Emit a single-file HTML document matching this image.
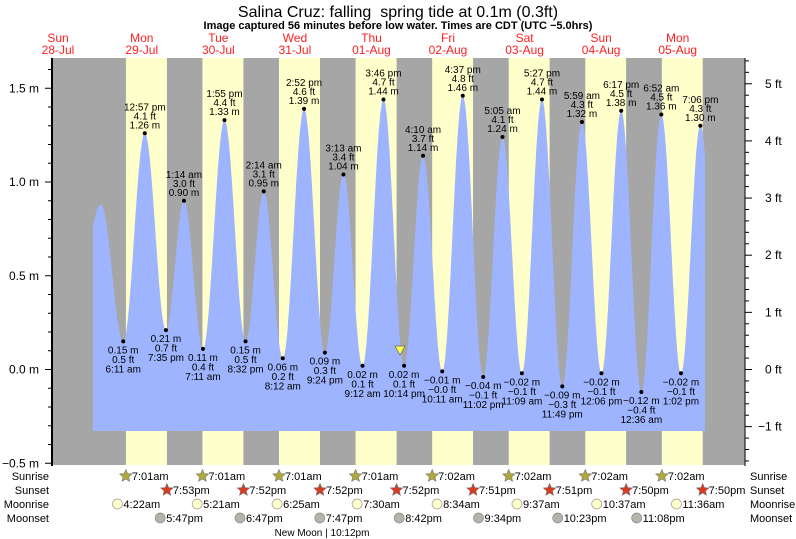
<!DOCTYPE html>
<html><head><meta charset="utf-8"><style>
body{margin:0;background:#fff}
svg{display:block;font-family:"Liberation Sans",Arial,sans-serif}
</style></head><body>
<svg id="s" width="796" height="539" viewBox="0 0 796 539" xmlns="http://www.w3.org/2000/svg">
<text x="398" y="17" font-size="16" text-anchor="middle">Salina Cruz: falling&#160; spring tide at 0.1m (0.3ft)</text>
<text x="398" y="29" font-size="11" font-weight="bold" text-anchor="middle">Image captured 56 minutes before low water. Times are CDT (UTC −5.0hrs)</text>
<rect x="53" y="58" width="692" height="407" fill="#a6a6a6"/>
<g id="bands"></g>
<g id="tide"></g>
<g id="labels" font-size="10" text-anchor="middle"></g>
<line x1="52" y1="58" x2="52" y2="466" stroke="#000" stroke-width="2"/>
<line x1="745" y1="58" x2="745" y2="466" stroke="#000" stroke-width="1"/>
<g id="axes" font-size="12"></g>
<g id="bottom" font-size="11"></g>
<text x="322" y="536" font-size="10" text-anchor="middle">New Moon | 10:12pm</text>
</svg>
<script>
const NS="http://www.w3.org/2000/svg";
function el(p,t,a,txt){const e=document.createElementNS(NS,t);for(const k in a)e.setAttribute(k,a[k]);if(txt!==undefined)e.textContent=txt;document.getElementById(p).appendChild(e);return e;}
const X=h=>103.5+3.19*h, Y=m=>369.5-187.5*m;
const days=[["Sun","28-Jul"],["Mon","29-Jul"],["Tue","30-Jul"],["Wed","31-Jul"],["Thu","01-Aug"],["Fri","02-Aug"],["Sat","03-Aug"],["Sun","04-Aug"],["Mon","05-Aug"]];
const sr=[7.017,7.017,7.017,7.017,7.033,7.033,7.033,7.033], ss=[19.883,19.867,19.867,19.867,19.85,19.85,19.833,19.833];
for(let d=0;d<8;d++){const a=X(d*24+sr[d]),b=X(d*24+ss[d]);el("bands","rect",{x:a,y:58,width:b-a,height:407,fill:"#ffffcc"});}
days.forEach((dd,i)=>{const x=i==0?58:X((i-1)*24+12);el("axes","text",{x:x,y:42,"text-anchor":"middle",fill:"#ff2020"},dd[0]);el("axes","text",{x:x,y:54,"text-anchor":"middle",fill:"#ff2020"},dd[1]);});
const E=[[-10,0.2],[-0.8,0.88],[6.18,0.15],[12.95,1.26],[19.58,0.21],[25.23,0.90],[31.18,0.11],[37.92,1.33],[44.53,0.15],[50.23,0.95],[56.2,0.06],[62.87,1.39],[69.4,0.09],[75.22,1.04],[81.2,0.02],[87.77,1.44],[94.23,0.02],[100.17,1.14],[106.18,-0.01],[112.62,1.46],[119.03,-0.04],[125.08,1.24],[131.15,-0.02],[137.45,1.44],[143.82,-0.09],[149.98,1.32],[156.1,-0.02],[162.28,1.38],[168.6,-0.12],[174.87,1.36],[181.03,-0.02],[187.1,1.30],[193,0.2]];
function hv(h){for(let i=0;i<E.length-1;i++){const[a,va]=E[i],[b,vb]=E[i+1];if(h>=a&&h<=b){const f=(1-Math.cos(Math.PI*(h-a)/(b-a)))/2;return va+(vb-va)*f;}}return 0;}
const h0=(93-103.5)/3.19,h1=(705-103.5)/3.19;let d="M93,431";
for(let h=h0;h<=h1;h+=0.1)d+=" L"+X(h).toFixed(1)+","+Y(hv(h)).toFixed(1);
d+=" L705,"+Y(hv(h1)).toFixed(1)+" L705,431 Z";
el("tide","path",{d:d,fill:"#9fb4ff"});
const L=[["6:11 am",0.15,0.5],["12:57 pm",1.26,4.1],["7:35 pm",0.21,0.7],["1:14 am",0.90,3.0],["7:11 am",0.11,0.4],["1:55 pm",1.33,4.4],["8:32 pm",0.15,0.5],["2:14 am",0.95,3.1],["8:12 am",0.06,0.2],["2:52 pm",1.39,4.6],["9:24 pm",0.09,0.3],["3:13 am",1.04,3.4],["9:12 am",0.02,0.1],["3:46 pm",1.44,4.7],["10:14 pm",0.02,0.1],["4:10 am",1.14,3.7],["10:11 am",-0.01,-0.0],["4:37 pm",1.46,4.8],["11:02 pm",-0.04,-0.1],["5:05 am",1.24,4.1],["11:09 am",-0.02,-0.1],["5:27 pm",1.44,4.7],["11:49 pm",-0.09,-0.3],["5:59 am",1.32,4.3],["12:06 pm",-0.02,-0.1],["6:17 pm",1.38,4.5],["12:36 am",-0.12,-0.4],["6:52 am",1.36,4.5],["1:02 pm",-0.02,-0.1],["7:06 pm",1.30,4.3]];
const fm=v=>(v<0?"−":"")+Math.abs(v).toFixed(2), ff=v=>(v<0||Object.is(v,-0)?"−":"")+Math.abs(v).toFixed(1);
L.forEach((l,i)=>{const e=E[i+2];const x=X(e[0]),y=Y(e[1]);el("labels","circle",{cx:x,cy:y,r:2,fill:"#000"});
 if(l[1]>0.5){el("labels","text",{x:x,y:y-5},fm(l[1])+" m");el("labels","text",{x:x,y:y-14},ff(l[2])+" ft");el("labels","text",{x:x,y:y-23},l[0]);}
 else{el("labels","text",{x:x,y:y+12},fm(l[1])+" m");el("labels","text",{x:x,y:y+21.5},ff(l[2])+" ft");el("labels","text",{x:x,y:y+31},l[0]);}});
el("labels","path",{d:"M395,346 L405,346 L400,355 Z",fill:"#ffff44",stroke:"#666","stroke-width":"0.7"});
for(let m=-0.5;m<=1.61;m+=0.1){const y=Y(m),maj=Math.abs(m*2-Math.round(m*2))<1e-6;el("axes","line",{x1:maj?45:48,y1:y,x2:52,y2:y,stroke:"#000"});}
[1.5,1.0,0.5,0.0,-0.5].forEach(m=>el("axes","text",{x:39,y:Y(m)+4,"text-anchor":"end"},(m<0?"−":"")+Math.abs(m).toFixed(1)+" m"));
const FT=0.3048;for(let f=-1.6;f<=5.41;f+=0.2){const y=Y(f*FT),maj=Math.abs(f-Math.round(f))<1e-6;el("axes","line",{x1:745,y1:y,x2:maj?752:749,y2:y,stroke:"#000"});}
for(let f=-1;f<=5;f++)el("axes","text",{x:f<0?758:765,y:Y(f*FT)+4},(f<0?"−":"")+Math.abs(f)+" ft");
[["Sunrise",476],["Sunset",490],["Moonrise",504],["Moonset",518]].forEach(r=>{el("bottom","text",{x:49,y:r[1]+4,"text-anchor":"end"},r[0]);el("bottom","text",{x:750,y:r[1]+4},r[0]);});
function star(x,y,c){let p="";for(let k=0;k<10;k++){const r=k%2?3:6.5,a=-Math.PI/2+k*Math.PI/5;p+=(k?"L":"M")+(x+r*Math.cos(a)).toFixed(1)+","+(y+r*Math.sin(a)).toFixed(1);}el("bottom","path",{d:p+"Z",fill:c,stroke:"#777","stroke-width":"0.6"});}
const fmt=h=>{let H=Math.floor(h+1e-6),M=Math.round((h-H)*60);const ap=H>=12?"pm":"am";H=H%12;if(H==0)H=12;return H+":"+String(M).padStart(2,"0")+ap;};
const mr=["4:22am","5:21am","6:25am","7:30am","8:34am","9:37am","10:37am","11:36am"],ms=["5:47pm","6:47pm","7:47pm","8:42pm","9:34pm","10:23pm","11:08pm"];
const th=s=>{const m=s.match(/(\d+):(\d+)(am|pm)/);let H=+m[1]%12;if(m[3]=="pm")H+=12;return H+m[2]/60;};
for(let d=0;d<8;d++){let x=X(d*24+sr[d]);star(x,476,"#b0a83a");el("bottom","text",{x:x+6,y:480},fmt(sr[d]));
 x=X(d*24+ss[d]);star(x,490,"#d83a22");el("bottom","text",{x:x+6,y:494},fmt(ss[d]));
 x=X(d*24+th(mr[d]));el("bottom","circle",{cx:x,cy:504,r:5,fill:"#ffffcc",stroke:"#999","stroke-width":"0.7"});el("bottom","text",{x:x+6,y:508},mr[d]);
 if(d<7){x=X(d*24+th(ms[d]));el("bottom","circle",{cx:x,cy:518,r:5,fill:"#b4b4a8",stroke:"#888","stroke-width":"0.7"});el("bottom","text",{x:x+6,y:522},ms[d]);}}
</script>
</body></html>
